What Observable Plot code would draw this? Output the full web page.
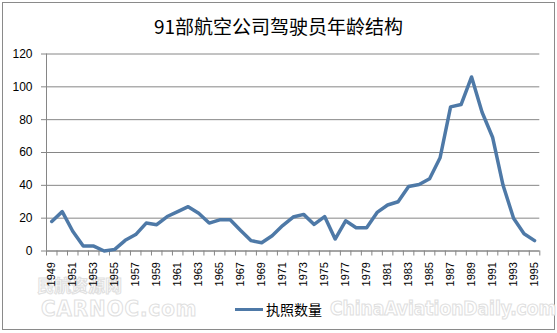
<!DOCTYPE html>
<html>
<head>
<meta charset="utf-8">
<script src="https://cdn.jsdelivr.net/npm/d3@7"></script>
<script src="https://cdn.jsdelivr.net/npm/@observablehq/plot@0.6"></script>
<style>
  html, body { margin: 0; padding: 0; background: #fff; }
  #frame { position: relative; width: 557px; height: 333px; overflow: hidden; font-family: "Liberation Sans", "Noto Sans CJK SC", sans-serif; }
  #border { position: absolute; left: 2px; top: 2px; width: 551px; height: 326px; border: 1px solid #8a8a8a; }
  #title { position: absolute; left: 0; top: 13px; width: 557px; text-align: center; font-size: 19px; line-height: 25px; color: #000; font-family: "Noto Sans CJK SC", sans-serif; }
  #chart { position: absolute; left: 0; top: 40px; }
  #legend { position: absolute; left: 235px; top: 299px; height: 20px; display: flex; align-items: center; font-size: 14px; font-family: "Noto Sans CJK SC", sans-serif; color: #000; }
  #legend .sw { width: 28px; height: 3px; background: #4E79A7; margin-right: 3px; }
  .wm { position: absolute; color: #fff; -webkit-text-stroke: 1px #e0e0e0; font-weight: bold; pointer-events: none; white-space: nowrap; line-height: 1; }
</style>
</head>
<body>
<div id="frame">
  <div id="border"></div>
  <div class="wm" style="left:37px;top:276px;font-size:17px;font-family:'Noto Sans CJK SC';">民航资源网</div>
  <div class="wm" style="left:41px;top:298px;font-size:22px;font-family:'DejaVu Sans Condensed','DejaVu Sans';letter-spacing:1px;">CARNOC.com</div>
  <div class="wm" style="left:330px;top:299px;font-size:19px;font-family:'DejaVu Sans Condensed','DejaVu Sans';">ChinaAviationDaily.com</div>
  <div id="title"></div>
  <div id="chart"></div>
  <div id="legend"><div class="sw"></div><span id="legendLabel"></span></div>
</div>
<script>
const titleText = "91部航空公司驾驶员年龄结构";
const seriesName = "执照数量";
const years = d3.range(1949, 1996);
const counts = [18, 24, 12, 3, 3, 0, 1, 6.5, 10, 17, 16, 21, 24, 27, 23, 17, 19, 19, 12.5, 6.3, 5, 9.3,
                15.5, 20.7, 22.3, 16.2, 21, 7.3, 18.4, 14.2, 14.2, 23.5, 28, 30, 39.3, 40.5, 44, 56.8,
                87.8, 89.2, 106, 84.5, 69.3, 40, 20, 10.5, 6.3];
const yTicks = [0, 20, 40, 60, 80, 100, 120];
const xLabelYears = years.filter(y => (y - 1949) % 2 === 0);
const xBoundaries = d3.range(1948.5, 1996, 1);

document.getElementById("title").textContent = titleText;
document.getElementById("legendLabel").textContent = seriesName;

const data = years.map((y, i) => ({year: y, value: counts[i]}));
const gridColor = "#868686";
const lineColor = "#4E79A7";

const chart = Plot.plot({
  width: 557,
  height: 293,
  marginTop: 13.5,
  marginBottom: 82.5,
  marginLeft: 46,
  marginRight: 17.7,
  style: {fontFamily: "Liberation Sans, Arial, sans-serif", background: "transparent", color: "#000"},
  x: {type: "linear", domain: [1948.5, 1995.5]},
  y: {domain: [0, 120]},
  marks: [
    Plot.gridY(yTicks, {stroke: gridColor, strokeOpacity: 1, strokeWidth: 1}),
    Plot.ruleX([1948.5], {stroke: gridColor, strokeWidth: 1}),
    Plot.axisY(yTicks, {tickSize: 5, tickPadding: 9, stroke: gridColor, fontSize: 12, label: null, tickFormat: d => String(d)}),
    Plot.axisX(xBoundaries, {tickSize: 5, stroke: gridColor, tickFormat: () => "", label: null}),
    Plot.axisX(xLabelYears, {tickSize: 0, tickPadding: 11, tickRotate: -90, fontSize: 11, label: null, tickFormat: d => String(d)}),
    Plot.ruleY([0], {stroke: gridColor, strokeWidth: 1}),
    Plot.line(data, {x: "year", y: "value", stroke: lineColor, strokeWidth: 3.5, strokeLinejoin: "round", strokeLinecap: "round"})
  ]
});
document.getElementById("chart").appendChild(chart);
</script>
</body>
</html>
